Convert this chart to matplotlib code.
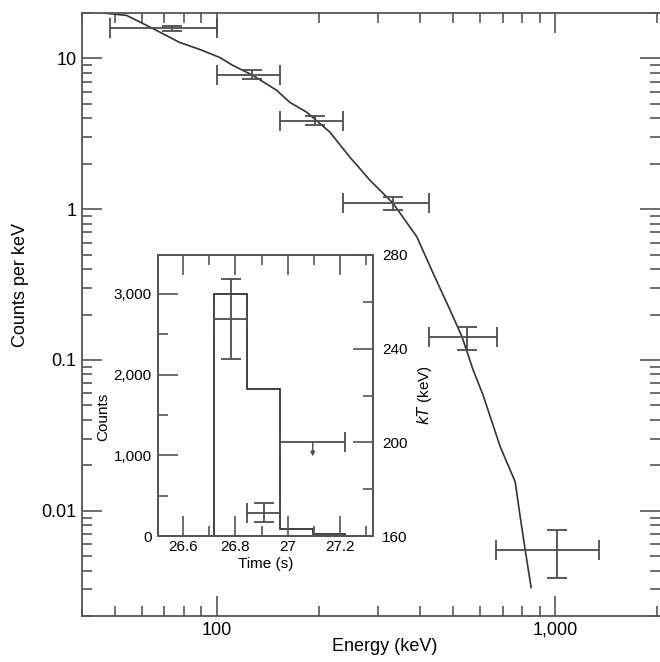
import matplotlib
matplotlib.use("Agg")
import matplotlib.pyplot as plt
import numpy as np
from matplotlib.ticker import FixedLocator, FixedFormatter, LogLocator, NullFormatter, FuncFormatter

plt.rcParams["font.family"] = ["Liberation Sans", "DejaVu Sans"]

# main spectrum: model curve (keV, counts per keV)
model_e = [44.2, 54.2, 64.7, 77.7, 89.1, 102, 111.5, 127.8, 150.4, 164.4, 184.6, 216,
           247.5, 283.6, 331.7, 390.6, 435.5, 489, 530.7, 572, 612, 688, 761.5,
           788, 815, 849]
model_c = [20.2, 19.27, 15.8, 12.76, 11.47, 10.15, 8.99, 7.72, 6.14, 5.11, 4.39, 3.24,
           2.21, 1.556, 1.096, 0.653, 0.377, 0.2144, 0.142, 0.0859, 0.0586, 0.02654,
           0.01556, 0.00913, 0.00552, 0.00309]

# data points with energy bins and errors
pt_e = [74, 127, 195, 332, 549, 1013]
pt_elo = [48.3, 100, 154, 236, 424, 669]
pt_ehi = [100, 154, 236, 424, 673, 1350]
pt_c = [15.8, 7.72, 3.83, 1.096, 0.142, 0.00552]
pt_clo = [15.1, 7.26, 3.60, 0.985, 0.1165, 0.0036]
pt_chi = [16.4, 8.33, 4.13, 1.20, 0.1654, 0.00748]

# inset: light curve (counts) and temperature (kT, keV)
lc_edges = [26.72, 26.845, 26.97, 27.095, 27.22]
lc_counts = [3000, 1820, 83, 25]
kt_t = [26.7825, 26.9075]
kt_tlo = [26.72, 26.845]
kt_thi = [26.845, 26.97]
kt_val = [252.6, 170]
kt_lo = [235.6, 166.1]
kt_hi = [269.6, 173.9]
lim_t, lim_tlo, lim_thi, lim_val = 27.095, 26.97, 27.22, 200

line_c = "#333333"
err_c = "#4d4d4d"
spine_c = "#555555"

fig = plt.figure(figsize=(6.6, 6.62), dpi=100)
ax = fig.add_axes([82 / 660, 46 / 662, 578 / 660, 603 / 662])

ax.plot(model_e, model_c, color=line_c, lw=1.2)
pt_e = np.array(pt_e)
pt_c = np.array(pt_c)
xerr = [pt_e - np.array(pt_elo), np.array(pt_ehi) - pt_e]
yerr = [pt_c - np.array(pt_clo), np.array(pt_chi) - pt_c]
ax.errorbar(pt_e, pt_c, xerr=xerr, yerr=yerr, fmt="none", ecolor=err_c,
            elinewidth=1.3, capsize=7, capthick=1.3)

ax.set_xscale("log")
ax.set_yscale("log")
ax.set_xlim(40, 2040)
ax.set_ylim(0.002, 20)

ax.xaxis.set_major_locator(FixedLocator([100, 1000]))
ax.xaxis.set_major_formatter(FixedFormatter(["100", "1,000"]))
ax.xaxis.set_minor_locator(LogLocator(base=10, subs=np.arange(2, 10), numticks=20))
ax.xaxis.set_minor_formatter(NullFormatter())
ax.yaxis.set_major_locator(FixedLocator([0.01, 0.1, 1, 10]))
ax.yaxis.set_major_formatter(FixedFormatter(["0.01", "0.1", "1", "10"]))
ax.yaxis.set_minor_locator(LogLocator(base=10, subs=np.arange(2, 10), numticks=20))
ax.yaxis.set_minor_formatter(NullFormatter())

ax.tick_params(which="both", direction="in", top=True, right=True, color=spine_c,
               width=1.2, labelsize=13, pad=4)
ax.tick_params(which="major", length=14.5)
ax.tick_params(which="minor", length=7.2)
for s in ax.spines.values():
    s.set_color(spine_c)
    s.set_linewidth(1.3)
ax.spines["right"].set_visible(False)

ax.set_xlabel("Energy (keV)", fontsize=13)
ax.set_ylabel("Counts per keV", fontsize=13)
ax.xaxis.set_label_coords(0.524, -0.036)
ax.yaxis.set_label_coords(-0.092, 0.549)

# inset
ins = fig.add_axes([158 / 660, 126 / 662, 215 / 660, 281 / 662])
ins.set_facecolor("white")
ins.stairs(lc_counts, lc_edges, baseline=0, color=line_c, lw=1.3)
ins.set_xlim(26.505, 27.325)
ins.set_ylim(0, 3480)
ins.xaxis.set_major_locator(FixedLocator([26.6, 26.8, 27.0, 27.2]))
ins.xaxis.set_minor_locator(FixedLocator([26.7, 26.9, 27.1, 27.3]))
ins.xaxis.set_major_formatter(FuncFormatter(lambda v, p: "%g" % v))
ins.yaxis.set_major_locator(FixedLocator([0, 1000, 2000, 3000]))
ins.yaxis.set_minor_locator(FixedLocator([500, 1500, 2500]))
ins.yaxis.set_major_formatter(FuncFormatter(lambda v, p: "{:,.0f}".format(v)))
ins.tick_params(which="both", direction="in", top=True, right=False, color=spine_c,
                width=1.2, labelsize=11)
ins.tick_params(axis="x", pad=3)
ins.tick_params(axis="y", pad=4.5)
ins.tick_params(which="major", length=14.5)
ins.tick_params(which="minor", length=7.2)
for s in ins.spines.values():
    s.set_color(spine_c)
    s.set_linewidth(1.3)
ins.set_xlabel("Time (s)", fontsize=11, labelpad=2)
ins.set_ylabel("Counts", fontsize=11)
ins.yaxis.set_label_coords(-0.223, 0.4235)

tw = ins.twinx()
tw.set_ylim(160, 280)
tw.yaxis.set_major_locator(FixedLocator([160, 200, 240, 280]))
tw.yaxis.set_minor_locator(FixedLocator([180, 220, 260]))
tw.tick_params(which="both", direction="in", color=spine_c, width=1.2,
               labelsize=11, pad=6.5)
tw.tick_params(which="major", length=14.5)
tw.tick_params(which="minor", length=7.2)
for s in tw.spines.values():
    s.set_color(spine_c)
    s.set_linewidth(1.3)
kt_t = np.array(kt_t)
kt_val = np.array(kt_val)
tw.errorbar(kt_t, kt_val,
            xerr=[kt_t - np.array(kt_tlo), np.array(kt_thi) - kt_t],
            yerr=[kt_val - np.array(kt_lo), np.array(kt_hi) - kt_val],
            fmt="none", ecolor=err_c, elinewidth=1.3, capsize=7, capthick=1.3)
tw.errorbar([lim_t], [lim_val], xerr=[[lim_t - lim_tlo], [lim_thi - lim_t]],
            fmt="none", ecolor=err_c, elinewidth=1.3, capsize=7, capthick=1.3)
tw.annotate("", xy=(lim_t, lim_val - 6), xytext=(lim_t, lim_val),
            arrowprops=dict(arrowstyle="-|>", color=err_c, lw=1.1,
                            mutation_scale=6, shrinkA=0, shrinkB=0))
tw.set_ylabel("$kT$ (keV)", fontsize=11)
tw.yaxis.set_label_coords(1.195, 0.5)

fig.savefig("out.png", dpi=100)
